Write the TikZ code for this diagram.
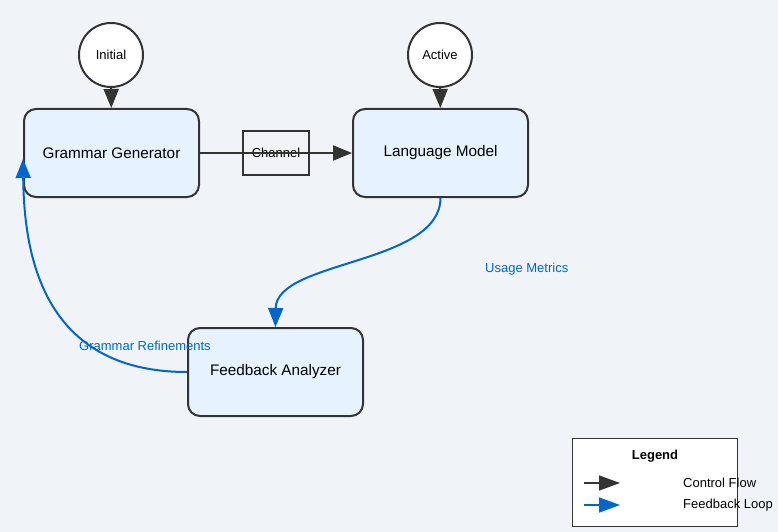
\documentclass[tikz,border=0pt]{standalone}
\usepackage{fontspec}
\setmainfont{Liberation Sans}
\usepackage{xcolor}
\usetikzlibrary{arrows.meta,positioning,calc}
\definecolor{bgcol}{HTML}{F0F4F8}
\definecolor{boxfill}{HTML}{E6F2FF}
\definecolor{edgecol}{HTML}{333333}
\definecolor{loopcol}{HTML}{0066CC}

\begin{document}
\begin{tikzpicture}[x=1pt, y=-1pt,
  comp/.style={draw=edgecol, line width=2pt, fill=boxfill, rounded corners=12pt,
    minimum width=175pt, minimum height=88pt, font=\fontsize{15.3}{17}\selectfont},
  statenode/.style={circle, draw=edgecol, line width=2pt, fill=white,
    minimum size=64pt, inner sep=0pt, font=\fontsize{13}{15}\selectfont},
  chan/.style={draw=edgecol, line width=2pt, minimum width=66pt, minimum height=44pt,
    inner sep=0pt, font=\fontsize{13}{15}\selectfont},
  flow/.style={draw=edgecol, line width=2pt, -{Triangle[length=19pt, width=15pt]}},
  fback/.style={draw=loopcol, line width=2pt, -{Triangle[length=19pt, width=15pt]}},
  flabel/.style={text=loopcol, font=\fontsize{13}{15}\selectfont, inner sep=0pt}]

  % Background
  \fill[bgcol] (0,0) rectangle (778,532);
  \useasboundingbox (0,0) rectangle (778,532);

  % Components
  \node[comp] (gen) at (111.5,153) {Grammar Generator};
  \node[comp] (lm) at (440.5,153) {Language Model};
  \node[comp] (fa) at (275.5,372) {Feedback Analyzer};

  % States
  \node[statenode] (init) at (111,55) {Initial};
  \node[statenode] (act) at (440,55) {Active};

  % Channel
  \node[chan] (ch) at (276,153) {Channel};

  % Control flow
  \draw[flow] (init) -- (gen);
  \draw[flow] (act) -- (lm);
  \draw[flow] (gen) -- (lm);

  % Feedback loop
  \coordinate (gentip) at ($(gen.west)+(0,6)$);
  \draw[fback] (lm.south) .. controls (440,265) and (276,260) .. (fa.north);
  \draw[fback] (fa.west) .. controls (40,372) and (24,250) .. (gentip);
  \node[flabel, anchor=west] (um) at (485,269) {Usage Metrics};
  \node[flabel, anchor=west] (gr) at (79,346) {Grammar Refinements};

  % Legend
  \node[draw=edgecol, line width=0.8pt, fill=white, minimum width=165pt,
    minimum height=88pt] (leg) at (654.5,482) {};
  \node[font=\fontsize{13}{15}\selectfont\bfseries] (legt) at (655,456) {Legend};
  \coordinate (cfa) at (584,483);
  \coordinate (cfb) at (620,483);
  \coordinate (fla) at (584,505);
  \coordinate (flb) at (620,505);
  \draw[flow, line width=1.5pt, -{Triangle[length=21pt, width=15pt]}] (cfa) -- (cfb);
  \draw[fback, line width=1.5pt, -{Triangle[length=21pt, width=15pt]}] (fla) -- (flb);
  \node[font=\fontsize{13}{15}\selectfont, anchor=west, inner sep=0pt] (cft) at (683,483) {Control Flow};
  \node[font=\fontsize{13}{15}\selectfont, anchor=west, inner sep=0pt] (flt) at (683,505) {Feedback Loop};
\end{tikzpicture}
\end{document}
